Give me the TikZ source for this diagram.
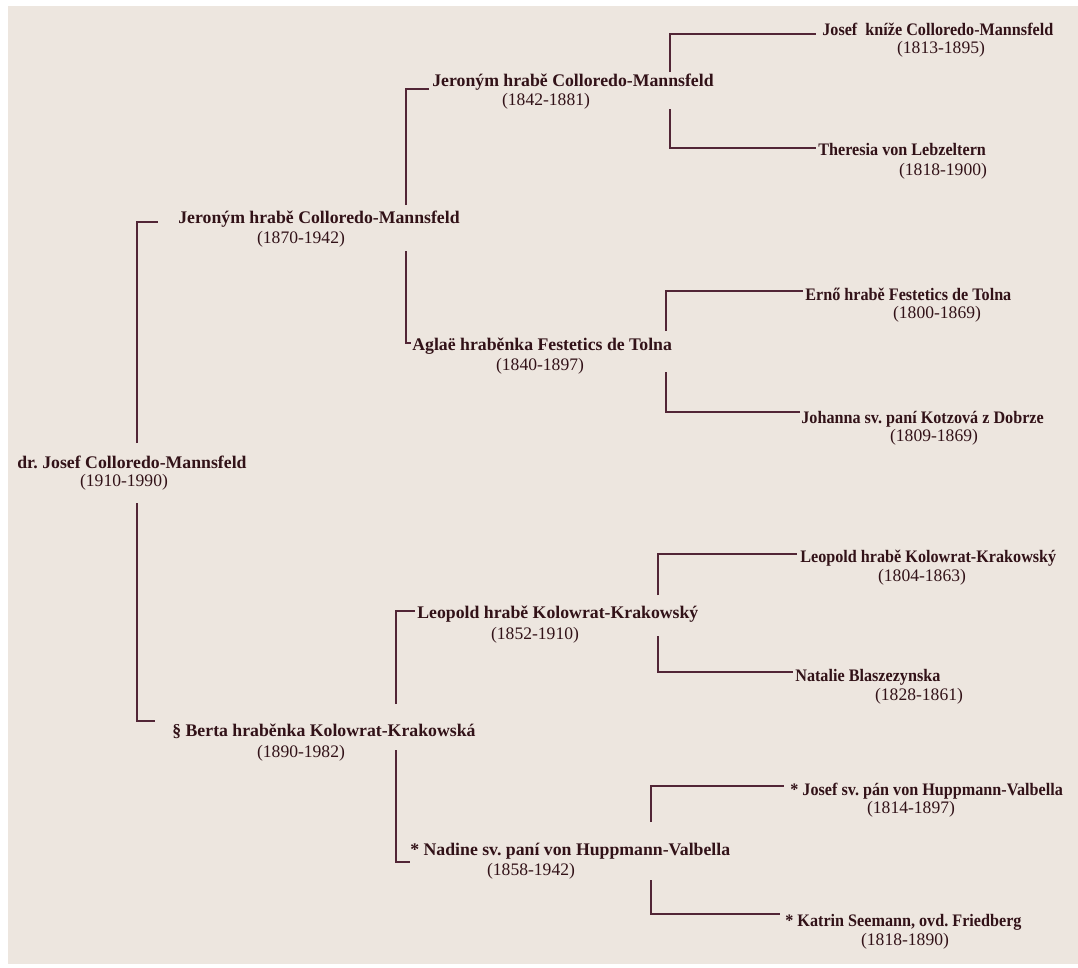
\documentclass[tikz,border=0pt]{standalone}
\usepackage{fontspec}
\setmainfont{Liberation Serif}
\usepackage{xcolor}
\usepackage{tikz}
\frenchspacing

\definecolor{paper}{RGB}{237,230,223}
\definecolor{ink}{RGB}{50,18,24}
\definecolor{rule}{RGB}{82,38,54}

\begin{document}
\begin{tikzpicture}[x=0.02cm,y=-0.02cm,
    nm/.style={anchor=west,inner sep=0pt,text height=7pt,text depth=2pt,
      text=ink,font=\fontsize{10.1}{12}\selectfont\bfseries},
    nmo/.style={nm,font=\fontsize{10}{12}\selectfont\bfseries\addfontfeature{FakeStretch=0.92}},
    yr/.style={inner sep=0pt,text height=7pt,text depth=2pt,
      text=ink,font=\fontsize{10}{12}\selectfont},
    ln/.style={draw=rule,line width=1.05pt}]
    \useasboundingbox (0,0) rectangle (1078,967);
    \fill[white] (0,0) rectangle (1078,967);
    \fill[paper] (8,6) rectangle (1078,964);

    % generation 0 and 1
    \node[nm] (root) at (17,464) {dr. Josef Colloredo-Mannsfeld};
    \node[yr] (rooty) at (124,482) {(1910-1990)};
    \node[nm] (fa) at (178,219) {Jeroným hrabě Colloredo-Mannsfeld};
    \node[yr] (fay) at (301,239) {(1870-1942)};
    \node[nm] (mo) at (172,732) {§ Berta hraběnka Kolowrat-Krakowská};
    \node[yr] (moy) at (301,753) {(1890-1982)};

    % generation 2
    \node[nm] (ff) at (432,82) {Jeroným hrabě Colloredo-Mannsfeld};
    \node[yr] (ffy) at (546,101) {(1842-1881)};
    \node[nm] (fm) at (412,346) {Aglaë hraběnka Festetics de Tolna};
    \node[yr] (fmy) at (540,366) {(1840-1897)};
    \node[nm] (mf) at (417,614) {Leopold hrabě Kolowrat-Krakowský};
    \node[yr] (mfy) at (535,635) {(1852-1910)};
    \node[nm] (mm) at (410,851) {* Nadine sv. paní von Huppmann-Valbella};
    \node[yr] (mmy) at (531,871) {(1858-1942)};

    % generation 3
    \node[nmo] (fff) at (822,31) {Josef~ kníže Colloredo-Mannsfeld};
    \node[yr] (fffy) at (941,49) {(1813-1895)};
    \node[nmo] (ffm) at (818,151) {Theresia von Lebzeltern};
    \node[yr] (ffmy) at (943,171) {(1818-1900)};
    \node[nmo] (fmf) at (805,296) {Ernő hrabě Festetics de Tolna};
    \node[yr] (fmfy) at (937,314) {(1800-1869)};
    \node[nmo] (fmm) at (801,419) {Johanna sv. paní Kotzová z Dobrze};
    \node[yr] (fmmy) at (934,437) {(1809-1869)};
    \node[nmo] (mff) at (800,558) {Leopold hrabě Kolowrat-Krakowský};
    \node[yr] (mffy) at (922,577) {(1804-1863)};
    \node[nmo] (mfm) at (795,677) {Natalie Blaszezynska};
    \node[yr] (mfmy) at (919,696) {(1828-1861)};
    \node[nmo] (mmf) at (790,791) {* Josef sv. pán von Huppmann-Valbella};
    \node[yr] (mmfy) at (911,809) {(1814-1897)};
    \node[nmo] (mmm) at (785,922) {* Katrin Seemann, ovd. Friedberg};
    \node[yr] (mmmy) at (905,941) {(1818-1890)};

    % bracket feet
    \coordinate (r0) at (137,443);
    \coordinate (r1) at (137,503);
    \coordinate (f0) at (406,205);
    \coordinate (f1) at (406,251);
    \coordinate (m0) at (396,704);
    \coordinate (m1) at (396,750);
    \coordinate (ff0) at (670,72);
    \coordinate (ff1) at (670,109);
    \coordinate (fm0) at (666,331);
    \coordinate (fm1) at (666,372);
    \coordinate (mf0) at (658,595);
    \coordinate (mf1) at (658,636);
    \coordinate (mm0) at (651,822);
    \coordinate (mm1) at (651,880);

    \draw[ln] (r0) |- ([shift={(-20,3)}]fa.west);
    \draw[ln] (r1) |- ([shift={(-17,-11)}]mo.west);
    \draw[ln] (f0) |- ([shift={(-3,7)}]ff.west);
    \draw[ln] (f1) |- ([shift={(-1,-3)}]fm.west);
    \draw[ln] (m0) |- ([shift={(-2,-3)}]mf.west);
    \draw[ln] (m1) |- ([shift={(0,11)}]mm.west);
    \draw[ln] (ff0) |- ([shift={(-6,3)}]fff.west);
    \draw[ln] (ff1) |- ([shift={(-2,-3)}]ffm.west);
    \draw[ln] (fm0) |- ([shift={(-2,-5)}]fmf.west);
    \draw[ln] (fm1) |- ([shift={(-1,-7)}]fmm.west);
    \draw[ln] (mf0) |- ([shift={(-3,-4)}]mff.west);
    \draw[ln] (mf1) |- ([shift={(-2,-5)}]mfm.west);
    \draw[ln] (mm0) |- ([shift={(-6,-5)}]mmf.west);
    \draw[ln] (mm1) |- ([shift={(-5,-8)}]mmm.west);
\end{tikzpicture}
\end{document}
